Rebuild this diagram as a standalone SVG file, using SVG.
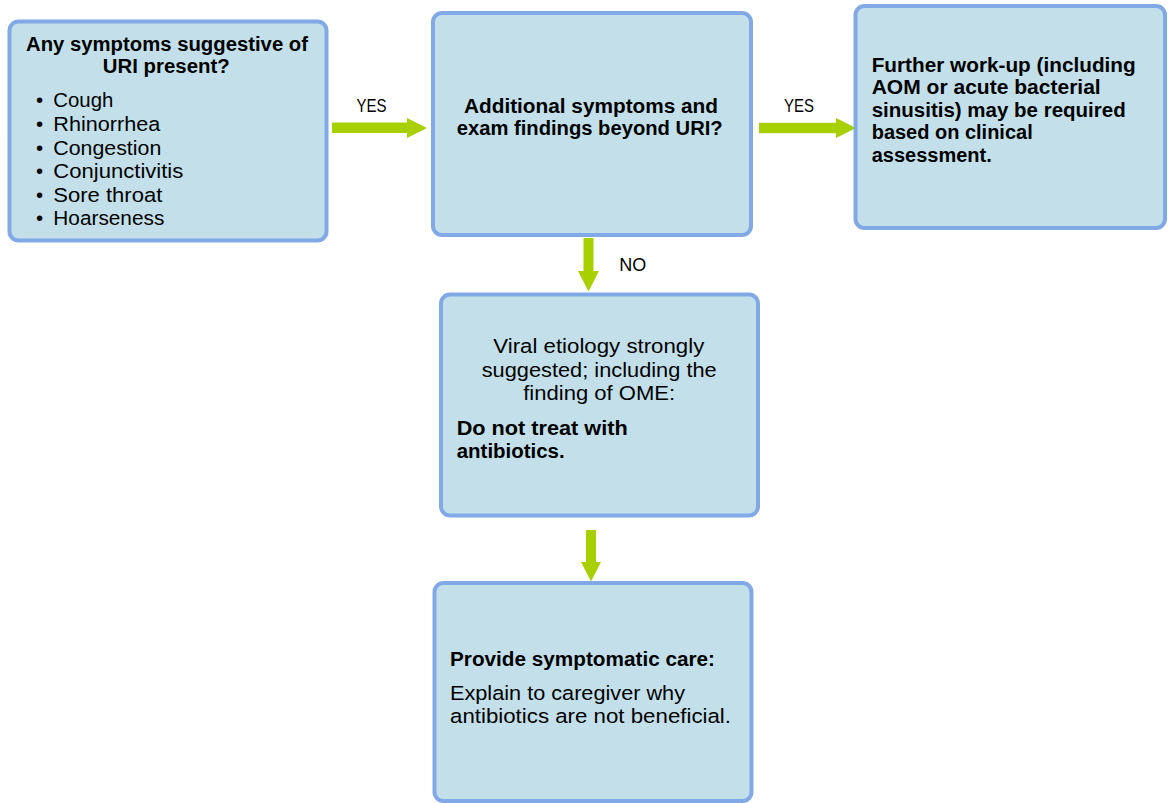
<svg xmlns="http://www.w3.org/2000/svg" width="1168" height="803" viewBox="0 0 1168 803">
<style>
.box{fill:#c3e0ea;stroke:#80a9e6;stroke-width:4}
.arr{fill:#a8d000}
text{font-family:"Liberation Sans",Arial,sans-serif;font-size:20.5px;fill:#000}
.b{font-weight:bold;font-size:20px}
.c{text-anchor:middle}
.lbl{font-size:18px}
</style>
<rect width="1168" height="803" fill="#fff"/>
<g id="connectors">
<polygon class="arr" points="332,122.5 407,122.5 407,118 427,128 407,138 407,133 332,133"/>
<text class="lbl" x="356.5" y="112.3" textLength="30" lengthAdjust="spacingAndGlyphs">YES</text>
<polygon class="arr" points="759,122.7 836,122.7 836,118 856,128 836,138 836,133.3 759,133.3"/>
<text class="lbl" x="784" y="112.3" textLength="30" lengthAdjust="spacingAndGlyphs">YES</text>
<polygon class="arr" points="583.5,238 593.5,238 593.5,271 599,271 588.5,291.5 578,271 583.5,271"/>
<text class="lbl" x="619.3" y="271" textLength="27" lengthAdjust="spacingAndGlyphs">NO</text>
<polygon class="arr" points="586,530 596,530 596,562 601,562 591,581.5 581,562 586,562"/>
</g>
<g id="node-uri">
<rect class="box" x="9.5" y="21.5" width="317" height="219" rx="9"/>
<text class="b c" x="167" y="50.5" textLength="282" lengthAdjust="spacingAndGlyphs">Any symptoms suggestive of</text>
<text class="b c" x="166.3" y="73.3" textLength="127" lengthAdjust="spacingAndGlyphs">URI present?</text>
<text x="36" y="107.3">•</text><text x="53.3" y="107.3" textLength="60" lengthAdjust="spacingAndGlyphs">Cough</text>
<text x="36" y="131">•</text><text x="53.3" y="131" textLength="107" lengthAdjust="spacingAndGlyphs">Rhinorrhea</text>
<text x="36" y="154.5">•</text><text x="53.3" y="154.5" textLength="108" lengthAdjust="spacingAndGlyphs">Congestion</text>
<text x="36" y="178">•</text><text x="53.3" y="178" textLength="130" lengthAdjust="spacingAndGlyphs">Conjunctivitis</text>
<text x="36" y="201.5">•</text><text x="53.3" y="201.5" textLength="109" lengthAdjust="spacingAndGlyphs">Sore throat</text>
<text x="36" y="225">•</text><text x="53.3" y="225" textLength="111" lengthAdjust="spacingAndGlyphs">Hoarseness</text>
</g>
<g id="node-additional">
<rect class="box" x="433" y="13" width="318" height="222" rx="9"/>
<text class="b c" x="591" y="113.3" textLength="254" lengthAdjust="spacingAndGlyphs">Additional symptoms and</text>
<text class="b c" x="589.7" y="135" textLength="266" lengthAdjust="spacingAndGlyphs">exam findings beyond URI?</text>
</g>
<g id="node-workup">
<rect class="box" x="855.5" y="6" width="309.5" height="222" rx="9"/>
<text class="b" x="871.7" y="71.7" textLength="264" lengthAdjust="spacingAndGlyphs">Further work-up (including</text>
<text class="b" x="871.7" y="94.3" textLength="229" lengthAdjust="spacingAndGlyphs">AOM or acute bacterial</text>
<text class="b" x="871.7" y="116.8" textLength="254" lengthAdjust="spacingAndGlyphs">sinusitis) may be required</text>
<text class="b" x="871.7" y="139.3" textLength="161" lengthAdjust="spacingAndGlyphs">based on clinical</text>
<text class="b" x="871.7" y="161.7" textLength="120" lengthAdjust="spacingAndGlyphs">assessment.</text>
</g>
<g id="node-viral">
<rect class="box" x="441" y="294.5" width="317" height="221" rx="9"/>
<text class="c" x="598.8" y="353.3" textLength="211" lengthAdjust="spacingAndGlyphs">Viral etiology strongly</text>
<text class="c" x="599.2" y="376.7" textLength="235" lengthAdjust="spacingAndGlyphs">suggested; including the</text>
<text class="c" x="599.2" y="400" textLength="152" lengthAdjust="spacingAndGlyphs">finding of OME:</text>
<text class="b" x="456.7" y="435" textLength="171" lengthAdjust="spacingAndGlyphs">Do not treat with</text>
<text class="b" x="456.7" y="457.7" textLength="108" lengthAdjust="spacingAndGlyphs">antibiotics.</text>
</g>
<g id="node-care">
<rect class="box" x="434.5" y="583" width="317" height="218" rx="9"/>
<text class="b" x="450" y="665.7" textLength="265" lengthAdjust="spacingAndGlyphs">Provide symptomatic care:</text>
<text x="450" y="700" textLength="235" lengthAdjust="spacingAndGlyphs">Explain to caregiver why</text>
<text x="450" y="722.7" textLength="281" lengthAdjust="spacingAndGlyphs">antibiotics are not beneficial.</text>
</g>
</svg>
